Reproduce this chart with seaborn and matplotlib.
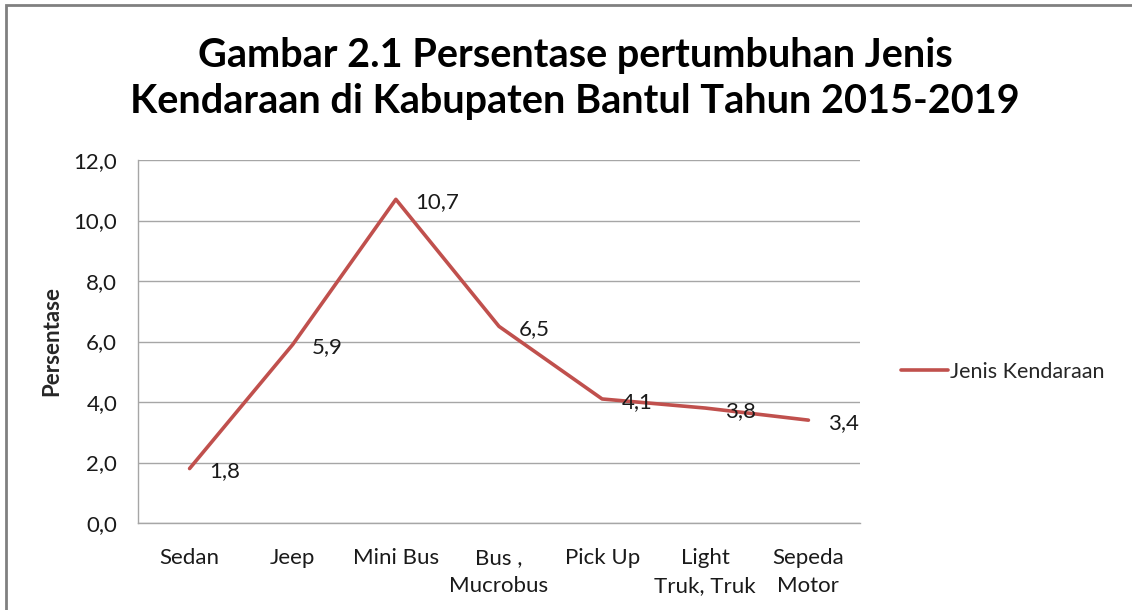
import pandas as pd
import seaborn as sns
import matplotlib.pyplot as plt
from matplotlib.patches import Rectangle

# data
categories = ['Sedan', 'Jeep', 'Mini Bus', 'Bus ,\nMucrobus', 'Pick Up',
              'Light\nTruk, Truk', 'Sepeda\nMotor']
values = [1.8, 5.9, 10.7, 6.5, 4.1, 3.8, 3.4]
yticks = [0, 2, 4, 6, 8, 10, 12]
series_name = 'Jenis Kendaraan'

sns.set_style('white')
plt.rcParams['font.family'] = ['Lato', 'DejaVu Sans']

df = pd.DataFrame({'pos': range(len(categories)), 'val': values})

fig = plt.figure(figsize=(11.32, 6.10), dpi=100)
ax = fig.add_axes([138 / 1132, 1 - 523 / 610, 722 / 1132, 363 / 610])

sns.lineplot(data=df, x='pos', y='val', ax=ax, color='#C0504D',
             linewidth=2.6, label=series_name)

# data labels to the right of each point
for x, y in zip(df['pos'], df['val']):
    ax.annotate('{:.1f}'.format(y).replace('.', ','), (x, y),
                xytext=(14, -2), textcoords='offset points',
                ha='left', va='center', fontsize=16, color='#1a1a1a')

ax.set_xlim(-0.5, len(categories) - 0.5)
ax.set_ylim(0, 12)
ax.set_yticks(yticks)
ax.set_yticklabels(['{:.1f}'.format(t).replace('.', ',') for t in yticks],
                   fontsize=16, color='#1a1a1a')
ax.set_xticks(range(len(categories)))
ax.set_xticklabels(categories, fontsize=16, color='#1a1a1a', linespacing=1.5)
ax.tick_params(axis='y', length=0, pad=15)
ax.tick_params(axis='x', length=0, pad=18)
ax.yaxis.grid(True, color='#A6A6A6', linewidth=1)
ax.set_axisbelow(True)
ax.set_xlabel('')
ax.set_ylabel('Persentase', fontsize=16, fontweight='bold', labelpad=8)

for side in ['top', 'right']:
    ax.spines[side].set_visible(False)
for side in ['left', 'bottom']:
    ax.spines[side].set_color('#A6A6A6')
    ax.spines[side].set_linewidth(1)

leg = ax.legend(loc='center left', bbox_to_anchor=(890 / 1132, 1 - 372 / 610),
                bbox_transform=fig.transFigure, frameon=False, fontsize=15.5,
                handlelength=2.2, handletextpad=0.1, borderpad=0)

fig.text(0.508, 1 - 78 / 610,
         'Gambar 2.1 Persentase pertumbuhan Jenis\n'
         'Kendaraan di Kabupaten Bantul Tahun 2015-2019',
         ha='center', va='center', fontsize=28.5, fontweight='bold',
         linespacing=1.3, color='black')

# chart border (only left/top visible in the reference)
fig.patches.append(Rectangle((6 / 1132, -0.1), 1.2, 1 - 5 / 610 + 0.1,
                             transform=fig.transFigure, fill=False,
                             edgecolor='#808080', linewidth=2))

fig.savefig('out.png', dpi=100)
